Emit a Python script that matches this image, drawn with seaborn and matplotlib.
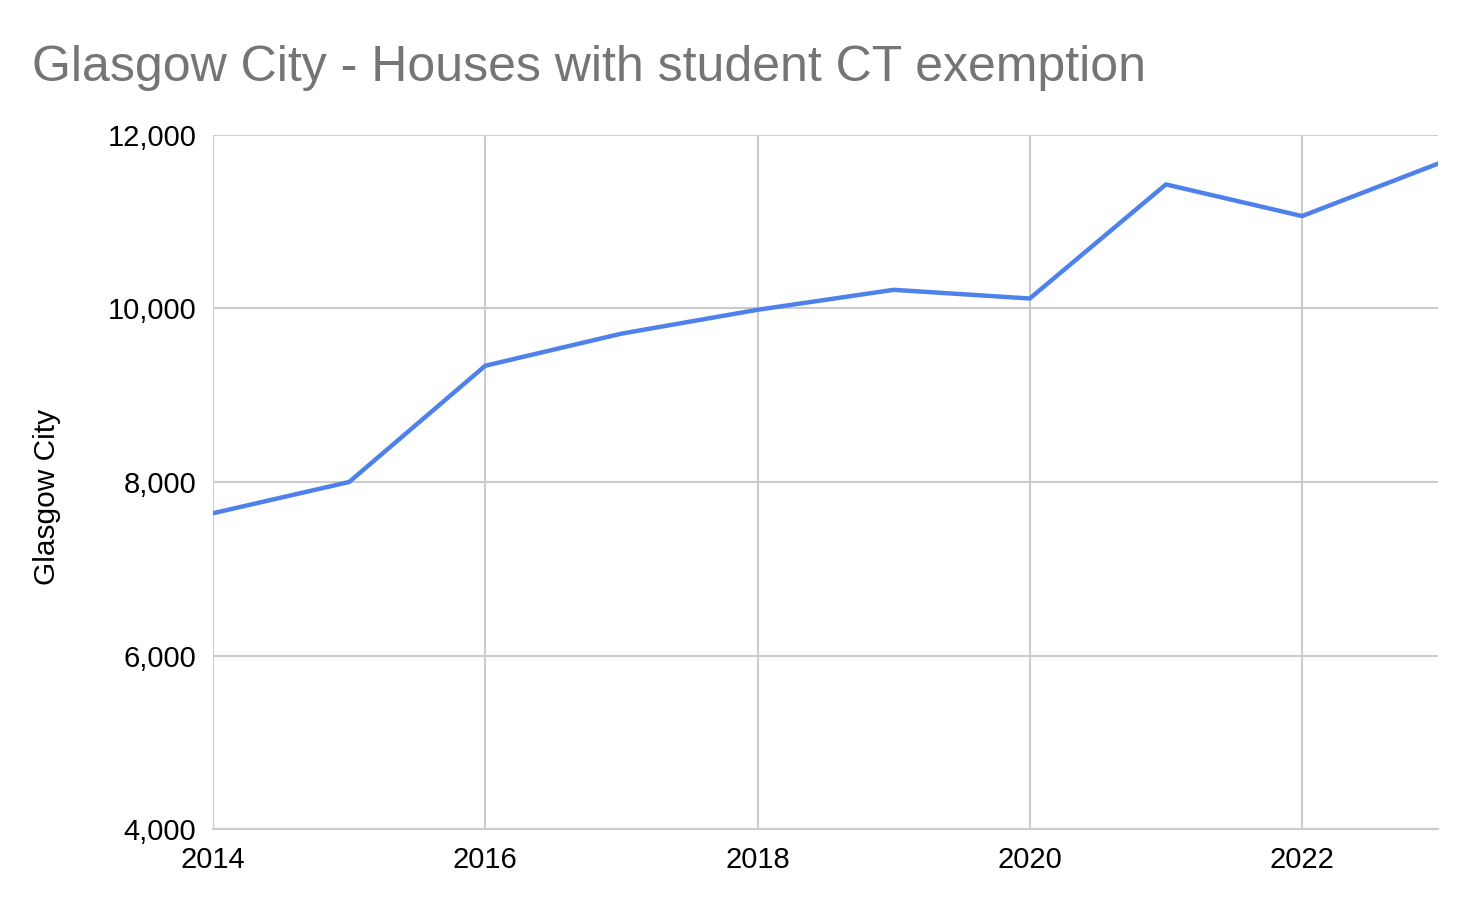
import numpy as np
import pandas as pd
import matplotlib.pyplot as plt
import seaborn as sns

# Data
years = [2014, 2015, 2016, 2017, 2018, 2019, 2020, 2021, 2022, 2023]
houses = [7640, 8000, 9340, 9710, 9985, 10215, 10115, 11430, 11065, 11670]
x_ticks = [2014, 2016, 2018, 2020, 2022]
y_ticks = [4000, 6000, 8000, 10000, 12000]

dataset = pd.DataFrame({'Year': years, 'Glasgow City': houses})

sns.set_style('white')
plt.rcParams['font.family'] = ['Liberation Sans', 'DejaVu Sans']

fig = plt.figure(figsize=(14.66, 8.98), dpi=100)
ax = fig.add_axes([0.1453, 0.0768, 0.8357, 0.7729])

sns.lineplot(x='Year', y='Glasgow City', data=dataset, color='#4f81ea', linewidth=3.2, ax=ax)

ax.set_xlim(2014, 2023)
ax.set_ylim(4000, 12000)
ax.set_xticks(x_ticks)
ax.set_yticks(y_ticks)
ax.set_xticklabels([str(t) for t in x_ticks])
ax.set_yticklabels([f'{t:,}' for t in y_ticks])
ax.tick_params(axis='both', length=0, labelsize=21, colors='black')
ax.tick_params(axis='x', pad=12)
ax.tick_params(axis='y', pad=12)
ax.grid(True, color='#cccccc', linewidth=1.5)
for s in ax.spines.values():
    s.set_visible(False)
ax.spines['bottom'].set_visible(True)
ax.spines['bottom'].set_color('#cccccc')
ax.spines['bottom'].set_linewidth(1.5)

ax.set_xlabel('')
ax.set_ylabel('Glasgow City', fontsize=21.5, va='center', color='black')
ax.yaxis.set_label_coords(-0.1355, 0.478)

fig.text(0.022, 0.91, 'Glasgow City - Houses with student CT exemption', fontsize=36,
         color='#757575', ha='left', va='baseline')

fig.savefig('out.png', dpi=100)
